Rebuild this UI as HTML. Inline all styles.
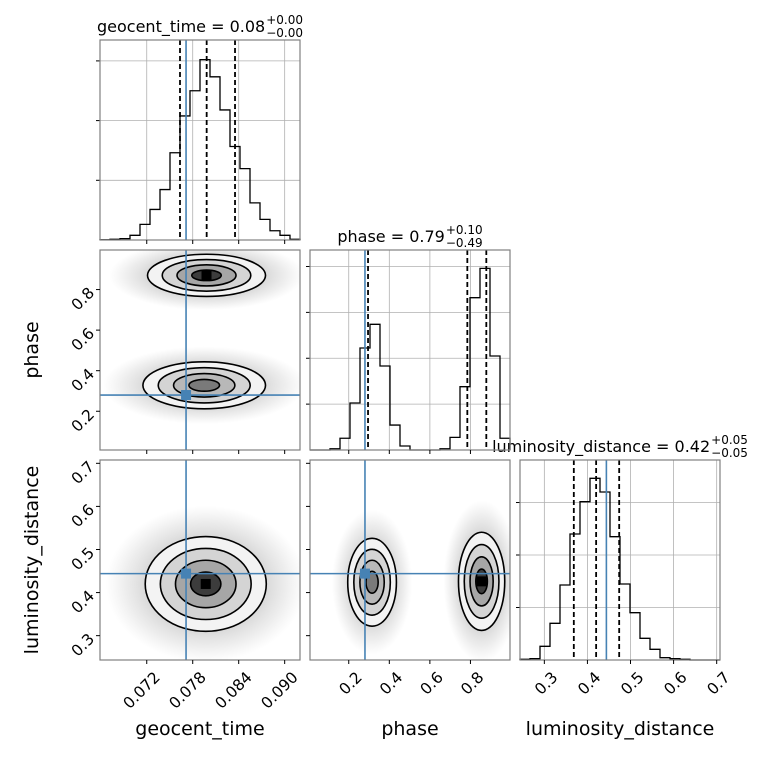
<!DOCTYPE html>
<html><head><meta charset="utf-8"><style>
body{margin:0;background:#fff;}
svg text{font-family:"DejaVu Sans","Liberation Sans",sans-serif;fill:#000;}
</style></head><body>
<svg id="c" width="760" height="760" viewBox="0 0 760 760" xmlns="http://www.w3.org/2000/svg">
<defs>
<radialGradient id="haze"><stop offset="0" stop-color="#b0b0b0" stop-opacity="0.9"/><stop offset="0.55" stop-color="#bcbcbc" stop-opacity="0.7"/><stop offset="0.8" stop-color="#c8c8c8" stop-opacity="0.35"/><stop offset="1" stop-color="#d0d0d0" stop-opacity="0"/></radialGradient>
</defs>
</svg>
<script>
const paramNames = ["geocent_time","phase","luminosity_distance"];
const paramRanges = [[0.0659,0.0920],[0.009,0.995],[0.2435,0.7077]];
const xTickVals = [[0.072,0.078,0.084,0.090],[0.2,0.4,0.6,0.8],[0.3,0.4,0.5,0.6,0.7]];
const xTickLabels = [["0.072","0.078","0.084","0.090"],["0.2","0.4","0.6","0.8"],["0.3","0.4","0.5","0.6","0.7"]];
const histGeocent = [2,7,13,47,157,307,507,877,1247,1500,1813,1640,1307,940,717,373,207,93,47,7];
const histPhase = [0,0,14,128,512,1112,1370,916,272,44,0,0,0,14,138,690,1660,1980,1025,128];
const histLum = [13,25,261,699,1429,2400,3016,3461,3200,2349,1448,901,413,204,44,25,13,0,0,0];
const histMax = [2010,2180,3810];
const histYTicks = [[600,1200,1800],[500,1000,1500,2000],[1000,2000,3000]];
const quantGeocent = [0.07634,0.07982,0.08352];
const quantPhase = [0.2951,0.7846,0.8782];
const quantLum = [0.3684,0.4202,0.4737];
const truths = [0.07713,0.280,0.4440];
// 2D blobs: [cx, cy, sx, sy, strength]
const blobsGeoPhase = [[0.0798,0.870,0.00385,0.052,1.0],[0.0795,0.328,0.0040,0.058,0.7]];
const blobsGeoLum = [[0.0797,0.420,0.00395,0.055,1.0]];
const blobsPhaseLum = [[0.315,0.424,0.060,0.051,0.7],[0.855,0.426,0.057,0.057,1.0]];
const titleVals = [["0.08","+0.00","−0.00"],["0.79","+0.10","−0.49"],["0.42","+0.05","−0.05"]];

const svg=document.getElementById('c');
const NS="http://www.w3.org/2000/svg";
function mk(t,a,p){const e=document.createElementNS(NS,t);for(const k in a)e.setAttribute(k,a[k]);(p||svg).appendChild(e);return e;}
const X0=100,Y0=40,S=200,G=210;
function sx(p,c,v){const r=paramRanges[p];return X0+G*c+(v-r[0])/(r[1]-r[0])*S;}
function syP(p,r,v){const q=paramRanges[p];return Y0+G*r+S-(v-q[0])/(q[1]-q[0])*S;}
function syH(i,v){return Y0+G*i+S-v/histMax[i]*S;}

const hists=[histGeocent,histPhase,histLum];
const quants=[quantGeocent,quantPhase,quantLum];
for(let i=0;i<3;i++){
  const g=mk('g',{},svg);
  
  
  const px=X0+G*i, py=Y0+G*i;
  xTickVals[i].forEach(v=>{const x=sx(i,i,v);const l=mk('line',{x1:x,x2:x,y1:py,y2:py+S,stroke:'#b0b0b0','stroke-width':0.8},g);});
  histYTicks[i].forEach(v=>{const y=syH(i,v);const l=mk('line',{x1:px,x2:px+S,y1:y,y2:y,stroke:'#b0b0b0','stroke-width':0.8},g);
    const t=mk('line',{x1:px-4,x2:px,y1:y,y2:y,stroke:'#000','stroke-width':1},g);});
  const h=hists[i], r=paramRanges[i], bw=(r[1]-r[0])/h.length;
  let d='M'+sx(i,i,r[0])+','+syH(i,0);
  h.forEach((c,k)=>{const xa=sx(i,i,r[0]+k*bw),xb=sx(i,i,r[0]+(k+1)*bw),y=syH(i,c);d+=' L'+xa+','+y+' L'+xb+','+y;});
  d+=' L'+sx(i,i,r[1])+','+syH(i,0);
  const p=mk('path',{d:d,fill:'none',stroke:'#000','stroke-width':1.3},g);
  
  quants[i].forEach(v=>{const x=sx(i,i,v);const l=mk('line',{x1:x,x2:x,y1:py,y2:py+S,stroke:'#000','stroke-width':1.8,'stroke-dasharray':'5,3'},g);});
  const tx=sx(i,i,truths[i]);
  const tl=mk('line',{x1:tx,x2:tx,y1:py,y2:py+S,stroke:'#4682b4','stroke-width':1.6},g);
  
  const tt=mk('text',{x:px+S/2,y:py-8,'text-anchor':'middle','font-size':16},svg);
  
  tt.textContent=paramNames[i]+' = '+titleVals[i][0];
  const bb=tt.getBBox();
  const sup=mk('text',{x:bb.x+bb.width+1,y:py-16,'font-size':12},svg);sup.textContent=titleVals[i][1];
  
  const sub=mk('text',{x:bb.x+bb.width+1,y:py-3,'font-size':12},svg);sub.textContent=titleVals[i][2];
  
  const sw=Math.max(sup.getBBox().width,sub.getBBox().width);
  const sh=(sw+1)/2;
  tt.setAttribute('x',px+S/2-sh);sup.setAttribute('x',bb.x-sh+bb.width+1);sub.setAttribute('x',bb.x-sh+bb.width+1);
}
const panels=[[0,1,blobsGeoPhase],[0,2,blobsGeoLum],[1,2,blobsPhaseLum]];
const levels=[[2.0,'#f3f3f3'],[1.5,'#d4d4d4'],[1.0,'#a6a6a6'],[0.5,'#3c3c3c']];
panels.forEach(([xp,yp,blobs],n)=>{
  const c=xp,r=yp;
  const px=X0+G*c,py=Y0+G*r;
  const clipId='clip'+n;
  const cp=mk('clipPath',{id:clipId},svg);mk('rect',{x:px,y:py,width:S,height:S},cp);
  const g=mk('g',{'clip-path':'url(#'+clipId+')'},svg);
  
  
  blobs.forEach(b=>{
    const cx=sx(xp,c,b[0]),cy=syP(yp,r,b[1]);
    const rx=Math.abs(sx(xp,c,b[0]+b[2])-cx),ry=Math.abs(syP(yp,r,b[1]+b[3])-cy);
    const hz=mk('ellipse',{cx:cx,cy:cy,rx:rx*3.3,ry:ry*3.3,fill:'url(#haze)',opacity:0.75+0.2*b[4]},g);
    
    levels.forEach(([k,col],li)=>{
      let fill=col;
      if(b[4]<0.9&&li>=2) fill=li==2?'#b8b8b8':'#7a7a7a';
      const e=mk('ellipse',{cx:cx,cy:cy,rx:rx*k,ry:ry*k,fill:fill,stroke:'#000','stroke-width':1.6},g);
      
    });
    if(b[4]>0.9){const e=mk('rect',{x:cx-5,y:cy-5,width:10,height:10,fill:'#000'},g);}
  });
  const tx=sx(xp,c,truths[xp]),ty=syP(yp,r,truths[yp]);
  const l1=mk('line',{x1:tx,x2:tx,y1:py,y2:py+S,stroke:'#4682b4','stroke-width':1.6},g);
  const l2=mk('line',{x1:px,x2:px+S,y1:ty,y2:ty,stroke:'#4682b4','stroke-width':1.6},g);
  const m=mk('rect',{x:tx-5,y:ty-5,width:10,height:10,fill:'#4682b4'},g);
});
for(let r=0;r<3;r++)for(let c=0;c<=r;c++){
  const px=X0+G*c,py=Y0+G*r;
  const f=mk('rect',{x:px,y:py,width:S,height:S,fill:'none',stroke:'#808080','stroke-width':1.2});
  
  xTickVals[c].forEach(v=>{const x=sx(c,c,v);const t=mk('line',{x1:x,x2:x,y1:py+S,y2:py+S+4,stroke:'#000','stroke-width':1});});
  if(c!==r){xTickVals[r].forEach(v=>{const y=syP(r,r,v);const t=mk('line',{x1:px-4,x2:px,y1:y,y2:y,stroke:'#000','stroke-width':1});});}
}
for(let c=0;c<3;c++){xTickVals[c].forEach((v,k)=>{const x=sx(c,c,v)+6,y=670;
  const t=mk('text',{x:x,y:y,'text-anchor':'end','font-size':15.5,transform:'rotate(-45 '+x+' '+y+')',dy:'0.75em'});
  t.textContent=xTickLabels[c][k];});}
for(let r=1;r<3;r++){xTickVals[r].forEach((v,k)=>{const y=syP(r,r,v),x=91;
  const t=mk('text',{x:x,y:y+6,'text-anchor':'end','font-size':15.5,transform:'rotate(-45 '+x+' '+y+')'});
  t.textContent=xTickLabels[r][k];});}
[[200,'geocent_time'],[410,'phase'],[620,'luminosity_distance']].forEach(([x,s])=>{const t=mk('text',{x:x,y:735,'text-anchor':'middle','font-size':19});t.textContent=s;});
[[350,'phase'],[560,'luminosity_distance']].forEach(([y,s])=>{const t=mk('text',{x:38,y:y,'text-anchor':'middle','font-size':19,transform:'rotate(-90 38 '+y+')'});t.textContent=s;});
</script>
</body></html>
